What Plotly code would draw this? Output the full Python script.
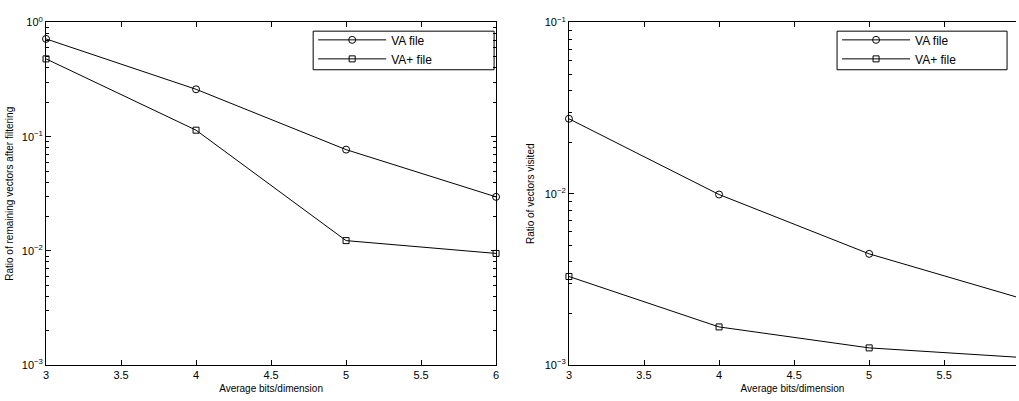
import plotly.graph_objects as go

bits = [3, 4, 5, 6]
left_va = [0.718, 0.26, 0.077, 0.0297]
left_vaplus = [0.48, 0.114, 0.0123, 0.0095]
right_va = [0.0274, 0.0099, 0.00446, 0.00247]
right_vaplus = [0.00329, 0.00167, 0.00126, 0.00111]

series_names = ["VA file", "VA+ file"]
x_ticks = [3, 3.5, 4, 4.5, 5, 5.5, 6]
x_ticktext = ["3", "3.5", "4", "4.5", "5", "5.5", "6"]
left_yticks = [1e-3, 1e-2, 1e-1, 1]
left_yticktext = ["10<sup>−3</sup>", "10<sup>−2</sup>", "10<sup>−1</sup>", "10<sup>0</sup>"]
right_yticks = [1e-3, 1e-2, 1e-1]
right_yticktext = ["10<sup>−3</sup>", "10<sup>−2</sup>", "10<sup>−1</sup>"]
x_title = "Average bits/dimension"
left_ytitle = "Ratio of remaining vectors after filtering"
right_ytitle = "Ratio of vectors visited"

W, H = 1019, 401
FONT = "Liberation Sans, Arial, sans-serif"

fig = go.Figure()

line = dict(color="black", width=1)
for xa, ya, va, vap, leg in [("x", "y", left_va, left_vaplus, "legend"),
                             ("x2", "y2", right_va, right_vaplus, "legend2")]:
    fig.add_trace(go.Scatter(x=bits, y=va, mode="lines+markers", name=series_names[0],
                             line=line, xaxis=xa, yaxis=ya, legend=leg, cliponaxis=False,
                             marker=dict(symbol="circle-open", size=7, color="black",
                                         line=dict(width=1, color="black"))))
    fig.add_trace(go.Scatter(x=bits, y=vap, mode="lines+markers", name=series_names[1],
                             line=line, xaxis=xa, yaxis=ya, legend=leg, cliponaxis=False,
                             marker=dict(symbol="square-open", size=6, color="black",
                                         line=dict(width=1, color="black"))))

def minor_vals(lo, hi):
    vals = []
    d = lo
    while d < hi:
        for k in range(2, 10):
            vals.append(k * d)
        d *= 10
    return vals

ydom = [(H - 370) / H, (H - 15) / H]
xdom1 = [43.3 / W, 496 / W]
xdom2 = [569.3 / W, 1.0]
x2max = 3 + (W - 569.3) / 151.0

axis_common = dict(showline=True, linecolor="black", linewidth=1, ticks="inside",
                   ticklen=5, tickcolor="black", showgrid=False, zeroline=False,
                   tickfont=dict(family=FONT, size=11, color="black"))

legend_common = dict(xanchor="left", yanchor="top", bgcolor="rgba(0,0,0,0)",
                     borderwidth=0, font=dict(size=12, family=FONT), tracegroupgap=0,
                     itemwidth=68)

# legend frames (paper coordinates)
frames = [(312, 494), (839, 1010)]
shapes = [dict(type="rect", xref="paper", yref="paper",
               x0=a / W, x1=b / W, y0=(H - 64) / H, y1=(H - 24) / H,
               line=dict(color="black", width=1), fillcolor="white", layer="below")
          for a, b in frames]

fig.update_layout(
    width=W, height=H, margin=dict(l=0, r=0, t=0, b=0),
    paper_bgcolor="white", plot_bgcolor="white",
    font=dict(family=FONT, color="black"),
    shapes=shapes,
    xaxis=dict(domain=xdom1, range=[3, 6], anchor="y", mirror="ticks",
               tickvals=x_ticks, ticktext=x_ticktext,
               title=dict(text=x_title, font=dict(size=10), standoff=4), **axis_common),
    yaxis=dict(domain=ydom, type="log", range=[-3, 0], anchor="x", mirror="ticks",
               tickvals=left_yticks, ticktext=left_yticktext,
               minor=dict(tickvals=minor_vals(1e-3, 1), ticks="inside", ticklen=3,
                          tickcolor="black"),
               title=dict(text=left_ytitle, font=dict(size=10), standoff=6), **axis_common),
    xaxis2=dict(domain=xdom2, range=[3, x2max], anchor="y2", mirror="ticks",
                tickvals=x_ticks, ticktext=x_ticktext,
                title=dict(text=x_title, font=dict(size=10), standoff=4), **axis_common),
    yaxis2=dict(domain=ydom, type="log", range=[-3, -1], anchor="x2", mirror=False,
                tickvals=right_yticks, ticktext=right_yticktext,
                minor=dict(tickvals=minor_vals(1e-3, 1e-1), ticks="inside", ticklen=3,
                           tickcolor="black"),
                title=dict(text=right_ytitle, font=dict(size=10), standoff=8), **axis_common),
    legend=dict(x=312 / W, y=(H - 18) / H, **legend_common),
    legend2=dict(x=839 / W, y=(H - 18) / H, **legend_common),
)

fig.write_html("out.html", config={"displayModeBar": False},
               post_script="document.body.style.margin='0';document.body.style.overflow='hidden';")
